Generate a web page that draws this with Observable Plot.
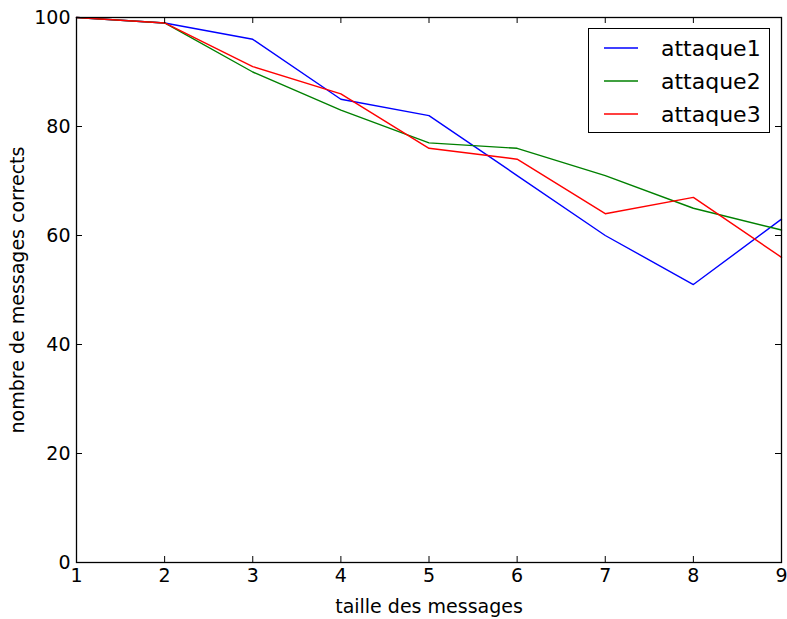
<!DOCTYPE html>
<html>
<head>
<meta charset="utf-8">
<script src="https://cdn.jsdelivr.net/npm/d3@7"></script>
<script src="https://cdn.jsdelivr.net/npm/@observablehq/plot@0.6"></script>
<style>
  html, body { margin: 0; padding: 0; background: #fff; }
  #chart { position: relative; width: 787px; height: 619px; font-family: "DejaVu Sans", sans-serif; }
  #legend {
    position: absolute; left: 588px; top: 28px; width: 182px; height: 105px;
    border: 1.3px solid #000; background: #fff; box-sizing: border-box;
  }
  #legend .row { position: absolute; left: 0; height: 24px; display: flex; align-items: center; }
  #legend svg { margin-left: 15px; }
  #legend span { margin-left: 23px; font-size: 22px; color: #000; }
</style>
</head>
<body>
<div id="chart"></div>
<script>
// Message sizes on the x axis
const tailles = [1, 2, 3, 4, 5, 6, 7, 8, 9];
// Number of correct messages for each attack
const attaque1 = [100, 99, 96, 85, 82, 71, 60, 51, 63];
const attaque2 = [100, 99, 90, 83, 77, 76, 71, 65, 61];
const attaque3 = [100, 99, 91, 86, 76, 74, 64, 67, 56];
const seriesNames = ["attaque1", "attaque2", "attaque3"];
const seriesColors = ["#0000ff", "#008000", "#ff0000"];
const xTicks = [1, 2, 3, 4, 5, 6, 7, 8, 9];
const yTicks = [0, 20, 40, 60, 80, 100];

const W = 787, H = 619;
const mL = 76, mR = 6, mT = 17, mB = 57;
const plotW = W - mL - mR, plotH = H - mT - mB;
const tickLen = 6;
const font = "DejaVu Sans";

const table = [];
[attaque1, attaque2, attaque3].forEach((vals, i) => {
  vals.forEach((v, j) => table.push({serie: seriesNames[i], taille: tailles[j], n: v}));
});

const chart = Plot.plot({
  width: W,
  height: H,
  marginLeft: mL,
  marginRight: mR,
  marginTop: mT,
  marginBottom: mB,
  style: {fontFamily: font, fontSize: "19px", color: "#000", background: "#fff"},
  x: {domain: [1, 9]},
  y: {domain: [0, 100]},
  color: {domain: seriesNames, range: seriesColors},
  marks: [
    Plot.line(table, {x: "taille", y: "n", z: "serie", stroke: "serie", strokeWidth: 1.4}),
    // inward tick marks on all four sides
    Plot.tickX(xTicks, {x: d => d, insetTop: plotH - tickLen, stroke: "#000", strokeWidth: 1}),
    Plot.tickX(xTicks, {x: d => d, insetBottom: plotH - tickLen, stroke: "#000", strokeWidth: 1}),
    Plot.tickY(yTicks, {y: d => d, insetRight: plotW - tickLen, stroke: "#000", strokeWidth: 1}),
    Plot.tickY(yTicks, {y: d => d, insetLeft: plotW - tickLen, stroke: "#000", strokeWidth: 1}),
    Plot.frame({stroke: "#000", strokeWidth: 1.3}),
    Plot.axisX(xTicks, {
      tickSize: 0, tickPadding: 6, fontSize: 19,
      label: "taille des messages", labelAnchor: "center", labelArrow: "none", labelOffset: 50
    }),
    Plot.axisY(yTicks, {
      tickSize: 0, tickPadding: 6, fontSize: 19,
      label: "nombre de messages corrects", labelAnchor: "center", labelArrow: "none", labelOffset: 66
    })
  ]
});

const container = document.getElementById("chart");
container.appendChild(chart);

// Legend box in the upper right corner
const legend = document.createElement("div");
legend.id = "legend";
seriesNames.forEach((name, i) => {
  const row = document.createElement("div");
  row.className = "row";
  row.style.top = (7 + i * 33) + "px";
  row.innerHTML = `<svg width="34" height="4"><line x1="0" x2="34" y1="2" y2="2" stroke="${seriesColors[i]}" stroke-width="1.4"/></svg><span>${name}</span>`;
  legend.appendChild(row);
});
container.appendChild(legend);
</script>
</body>
</html>
